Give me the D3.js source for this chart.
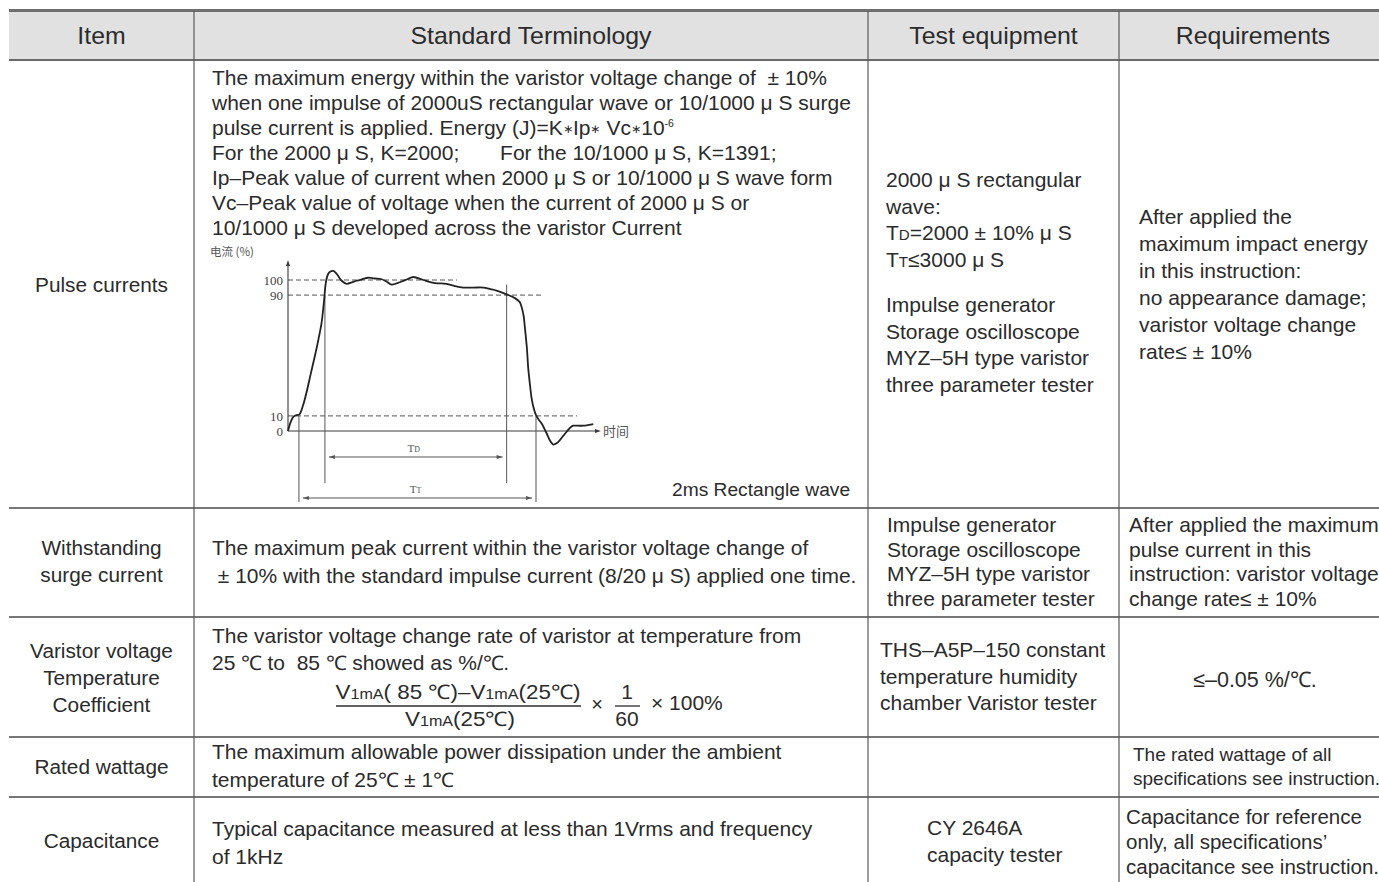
<!DOCTYPE html>
<html><head><meta charset="utf-8">
<script src="https://cdn.jsdelivr.net/npm/d3@7"></script>
<style>html,body{margin:0;padding:0;background:#fff;}svg{display:block;}</style>
</head><body>
<svg id="c" width="1379" height="882"></svg>
<script>
// ---------- table content ----------
const columns = ["Item", "Standard Terminology", "Test equipment", "Requirements"];
const items = [["Pulse currents"], ["Withstanding", "surge current"], ["Varistor voltage", "Temperature", "Coefficient"], ["Rated wattage"], ["Capacitance"]];
const pulseTerms = [
  "The maximum energy within the varistor voltage change of  ± 10%",
  "when one impulse of 2000uS rectangular wave or 10/1000 μ S surge",
  "pulse current is applied. Energy (J)=K~{∗}Ip~{∗} Vc~{∗}10^{-6}",
  "For the 2000 μ S, K=2000;       For the 10/1000 μ S, K=1391;",
  "Ip–Peak value of current when 2000 μ S or 10/1000 μ S wave form",
  "Vc–Peak value of voltage when the current of 2000 μ S or",
  "10/1000 μ S developed across the varistor Current"
];
const pulseEquip = ["2000 μ S rectangular", "wave:", "T_{D}=2000 ± 10% μ S", "T_{T}≤3000 μ S"];
const pulseEquip2 = ["Impulse generator", "Storage oscilloscope", "MYZ–5H type varistor", "three parameter tester"];
const pulseReq = ["After applied the", "maximum impact energy", "in this instruction:", "no appearance damage;", "varistor voltage change", "rate≤ ± 10%"];
const surgeTerms = ["The maximum peak current within the varistor voltage change of", " ± 10% with the standard impulse current (8/20 μ S) applied one time."];
const surgeEquip = ["Impulse generator", "Storage oscilloscope", "MYZ–5H type varistor", "three parameter tester"];
const surgeReq = ["After applied the maximum", "pulse current in this", "instruction: varistor voltage", "change rate≤ ± 10%"];
const tempTerms = ["The varistor voltage change rate of varistor at temperature from", "25 ℃ to  85 ℃ showed as %/℃."];
const formulaNum = "V_{1mA}( 85 ℃)–V_{1mA}(25℃)";
const formulaDen = "V_{1mA}(25℃)";
const formulaFactor = ["1", "60"];
const tempEquip = ["THS–A5P–150 constant", "temperature humidity", "chamber Varistor tester"];
const tempReq = ["≤–0.05 %/℃."];
const wattTerms = ["The maximum allowable power dissipation under the ambient", "temperature of 25℃ ± 1℃"];
const wattReq = ["The rated wattage of all", "specifications see instruction."];
const capTerms = ["Typical capacitance measured at less than 1Vrms and frequency", "of 1kHz"];
const capEquip = ["CY 2646A", "capacity tester"];
const capReq = ["Capacitance for reference", "only, all specifications’", "capacitance see instruction."];
const waveCaption = "2ms Rectangle wave";

// ---------- waveform data (time in μs, current in %) ----------
const waveTime = [0, 30, 60, 95, 125, 165, 205, 250, 296, 335, 369, 395, 417, 440, 461, 497, 534, 589, 643, 700, 753, 815, 880, 950, 1027, 1080, 1137, 1246, 1310, 1373, 1483, 1611, 1740, 1830, 1922, 2040, 2141, 2220, 2288, 2398, 2489, 2540, 2563, 2585, 2599, 2620, 2635, 2655, 2672, 2695, 2719, 2750, 2782, 2836, 2880, 2909, 2950, 2982, 3056, 3100, 3129, 3180, 3238, 3300, 3348];
const waveCurrent = [0, 6, 9.5, 10.5, 11, 17, 26, 38, 50, 61, 72, 86, 99, 104, 105.5, 106, 104, 99.5, 97.5, 98.5, 99.5, 100.5, 101.5, 101, 100.5, 99, 97, 99, 100.5, 102, 100, 98, 97.5, 96, 95, 95, 95, 94, 93, 90.5, 88, 85.5, 82, 76, 68, 55, 41.5, 30, 21.6, 15, 10.6, 7.5, 5, -1.5, -7, -9, -8, -6, -0.5, 2.5, 3.5, 3.5, 3.5, 4, 4.5];
const yTicks = [0, 10, 90, 100];
const dashLevels = [100, 90, 10];
const dashEndTime = [1853, 2796, 3170];
const markerTimes = [120, 405, 2398, 2720];   // 10% rise, 90% rise, 90% fall, 10% fall
const markerTops = [10, 90, 97, 10];
const spans = [{label: "D", from: 405, to: 2398}, {label: "T", from: 120, to: 2720}];

// ---------- drawing ----------
const svg = d3.select("#c");
const FONT = "'Liberation Sans', Arial, Helvetica, sans-serif";
const TXT = "#2b2b2b";
const LINE = "#5a5a5a";

// rich text: _{..} small on baseline, ^{..} superscript, ~{..} small symbol
function rich(sel, str, size) {
  const parts = str.split(/(\^\{[^}]*\}|_\{[^}]*\}|~\{[^}]*\})/).filter(p => p.length);
  let pending = 0;
  parts.forEach(p => {
    let ts, shift = 0;
    if (p.startsWith("^{")) {
      shift = -size * 0.42;
      ts = sel.append("tspan").attr("font-size", size * 0.5).text(p.slice(2, -1));
    } else if (p.startsWith("~{")) {
      shift = -size * 0.12;
      ts = sel.append("tspan").attr("font-size", size * 0.6).text(p.slice(2, -1));
    } else if (p.startsWith("_{")) {
      ts = sel.append("tspan").attr("font-size", size * 0.72).text(p.slice(2, -1));
    } else {
      ts = sel.append("tspan").text(p);
    }
    const dy = pending + shift;
    if (dy !== 0) ts.attr("dy", dy);
    pending = -shift;
  });
}
function block(lines, x, baselines, opts = {}) {
  const size = opts.size || 20;
  lines.forEach((ln, i) => {
    const t = svg.append("text")
      .attr("x", x).attr("y", baselines[i])
      .attr("font-family", FONT).attr("font-size", size)
      .attr("fill", TXT).attr("text-anchor", opts.anchor || "start")
      .attr("xml:space", "preserve").style("white-space", "pre");
    if (opts.sx) t.attr("transform", `translate(${x},0) scale(${opts.sx},1) translate(${-x},0)`);
    rich(t, ln, size);
  });
}
const seq = (start, step, n) => d3.range(n).map(i => start + i * step);

// table geometry
const left = 9, right = 1379;
const colX = [194, 868, 1119];
const rowY = [508, 617, 737, 797];
const headTop = 11, headBot = 60;

svg.append("rect").attr("x", left).attr("y", headTop).attr("width", right - left).attr("height", headBot - headTop).attr("fill", "#e1e1e1");
svg.append("line").attr("x1", left).attr("x2", right).attr("y1", 10.5).attr("y2", 10.5).attr("stroke", "#6e6e6e").attr("stroke-width", 3);
svg.append("line").attr("x1", left).attr("x2", right).attr("y1", headBot).attr("y2", headBot).attr("stroke", "#6a6a6a").attr("stroke-width", 2);
rowY.forEach(y => svg.append("line").attr("x1", left).attr("x2", right).attr("y1", y).attr("y2", y).attr("stroke", "#777").attr("stroke-width", 2));
colX.forEach(x => svg.append("line").attr("x1", x).attr("x2", x).attr("y1", headTop).attr("y2", 882).attr("stroke", LINE).attr("stroke-width", 1.2));

// header
const colCenters = [101.5, 531, 993.5, 1253];
columns.forEach((c, i) => block([c], colCenters[i], [44], {size: 23, anchor: "middle", sx: 1.08}));

// item column
const ISX = 1.04;
block(items[0], 101.5, [292], {anchor: "middle", sx: ISX});
block(items[1], 101.5, [555, 582], {anchor: "middle", sx: ISX});
block(items[2], 101.5, [658, 685, 712], {anchor: "middle", sx: ISX});
block(items[3], 101.5, [774], {anchor: "middle", sx: ISX});
block(items[4], 101.5, [848], {anchor: "middle", sx: ISX});

// standard terminology
const SX = 1.05;
block(pulseTerms, 212, seq(85, 25, 7), {sx: SX});
block(surgeTerms, 212, [555, 583], {sx: SX});
block(tempTerms, 212, [643, 670], {sx: SX});
block(wattTerms, 212, [759, 787], {sx: SX});
block(capTerms, 212, [836, 864], {sx: SX});
block([waveCaption], 672, [496], {size: 19.2});

// formula
block([formulaNum], 458, [699], {anchor: "middle", sx: 1.12});
block([formulaDen], 460, [726], {anchor: "middle", sx: 1.12});
svg.append("line").attr("x1", 336).attr("x2", 581).attr("y1", 706).attr("y2", 706).attr("stroke", TXT).attr("stroke-width", 1.3);
block(["×"], 597, [711], {anchor: "middle"});
block([formulaFactor[0]], 627, [699], {anchor: "middle", sx: SX});
block([formulaFactor[1]], 627, [726], {anchor: "middle", sx: SX});
svg.append("line").attr("x1", 615).attr("x2", 640).attr("y1", 706).attr("y2", 706).attr("stroke", TXT).attr("stroke-width", 1.3);
block(["× 100%"], 651, [710], {sx: SX});

// test equipment
block(pulseEquip, 886, seq(187, 26.7, 4), {size: 21});
block(pulseEquip2, 886, seq(312, 26.7, 4), {size: 21});
block(surgeEquip, 887, seq(532, 24.7, 4), {size: 21});
block(tempEquip, 880, seq(657, 26.7, 3), {size: 21});
block(capEquip, 927, [835, 862], {size: 21});

// requirements
block(pulseReq, 1139, seq(224, 26.9, 6), {size: 21});
block(surgeReq, 1129, seq(532, 24.7, 4), {size: 21});
block(tempReq, 1255, [687], {anchor: "middle", size: 21.5});
block(wattReq, 1133, [761, 785], {size: 19});
block(capReq, 1126, [824, 849, 874], {size: 20.5});

// ---------- embedded waveform chart ----------
const x = d3.scaleLinear().domain([0, 3400]).range([288, 598]);
const y = d3.scaleLinear().domain([0, 100]).range([431, 280]);
const g = svg.append("g");
const SERIF = "'Liberation Serif', 'DejaVu Serif', serif";
const CJK = "'Noto Sans CJK SC', sans-serif";
const CH = "#3a3a3a";

// dashed reference levels
dashLevels.forEach((lv, i) => g.append("line")
  .attr("x1", x(0)).attr("x2", x(dashEndTime[i])).attr("y1", y(lv)).attr("y2", y(lv))
  .attr("stroke", "#555").attr("stroke-width", 1).attr("stroke-dasharray", "5,3"));

// axes
const yAxisTop = y(100) - 17;
g.append("line").attr("x1", x(0)).attr("x2", x(0)).attr("y1", y(0)).attr("y2", yAxisTop).attr("stroke", CH).attr("stroke-width", 1.1);
g.append("path").attr("d", `M${x(0)},${yAxisTop - 3} l-2,6 h4 z`).attr("fill", CH);
g.append("line").attr("x1", x(0)).attr("x2", x(3400)).attr("y1", y(0)).attr("y2", y(0)).attr("stroke", CH).attr("stroke-width", 1.1);
g.append("path").attr("d", `M${x(3400) + 3},${y(0)} l-6,-2 v4 z`).attr("fill", CH);
const yAxis = d3.axisLeft(y).tickValues(yTicks).tickSize(0).tickPadding(5);
const ya = g.append("g").attr("transform", `translate(${x(0)},0)`).call(yAxis);
ya.select(".domain").remove();
ya.attr("color", "#444");
ya.selectAll("text").attr("font-family", SERIF).attr("font-size", 13).attr("fill", "#444");
g.append("text").attr("x", 210).attr("y", 256).attr("font-family", CJK).attr("font-size", 11.5).attr("fill", "#555").text("电流 (%)");
g.append("text").attr("x", x(3400) + 5).attr("y", y(0) + 5).attr("font-family", CJK).attr("font-size", 13).attr("fill", "#555").text("时间");

// timing markers
const spanY = {D: y(0) + 26, T: y(0) + 67};
markerTimes.forEach((t, i) => {
  const bottom = (i === 0 || i === 3) ? spanY.T + 4 : spanY.D + 26;
  g.append("line").attr("x1", x(t)).attr("x2", x(t)).attr("y1", y(markerTops[i])).attr("y2", bottom)
    .attr("stroke", "#555").attr("stroke-width", 1);
});
spans.forEach(s => {
  const yy = spanY[s.label];
  const a = x(s.from) + 4, b = x(s.to) - 4;
  g.append("line").attr("x1", a).attr("x2", b).attr("y1", yy).attr("y2", yy).attr("stroke", "#555").attr("stroke-width", 1);
  g.append("path").attr("d", `M${a},${yy} l6,-2 v4 z M${b},${yy} l-6,-2 v4 z`).attr("fill", "#555");
  const lt = g.append("text").attr("x", (x(s.from) + x(s.to)) / 2 - 2).attr("y", yy - 5)
    .attr("font-family", SERIF).attr("font-size", 11).attr("fill", "#555").attr("text-anchor", "middle");
  lt.append("tspan").text("T");
  lt.append("tspan").attr("font-size", 8).text(s.label);
});

// waveform
const wave = waveTime.map((t, i) => [t, waveCurrent[i]]);
g.append("path").datum(wave)
  .attr("d", d3.line().x(d => x(d[0])).y(d => y(d[1])).curve(d3.curveCatmullRom.alpha(0.5)))
  .attr("fill", "none").attr("stroke", "#222").attr("stroke-width", 1.8).attr("stroke-linejoin", "round");
</script>
</body></html>
